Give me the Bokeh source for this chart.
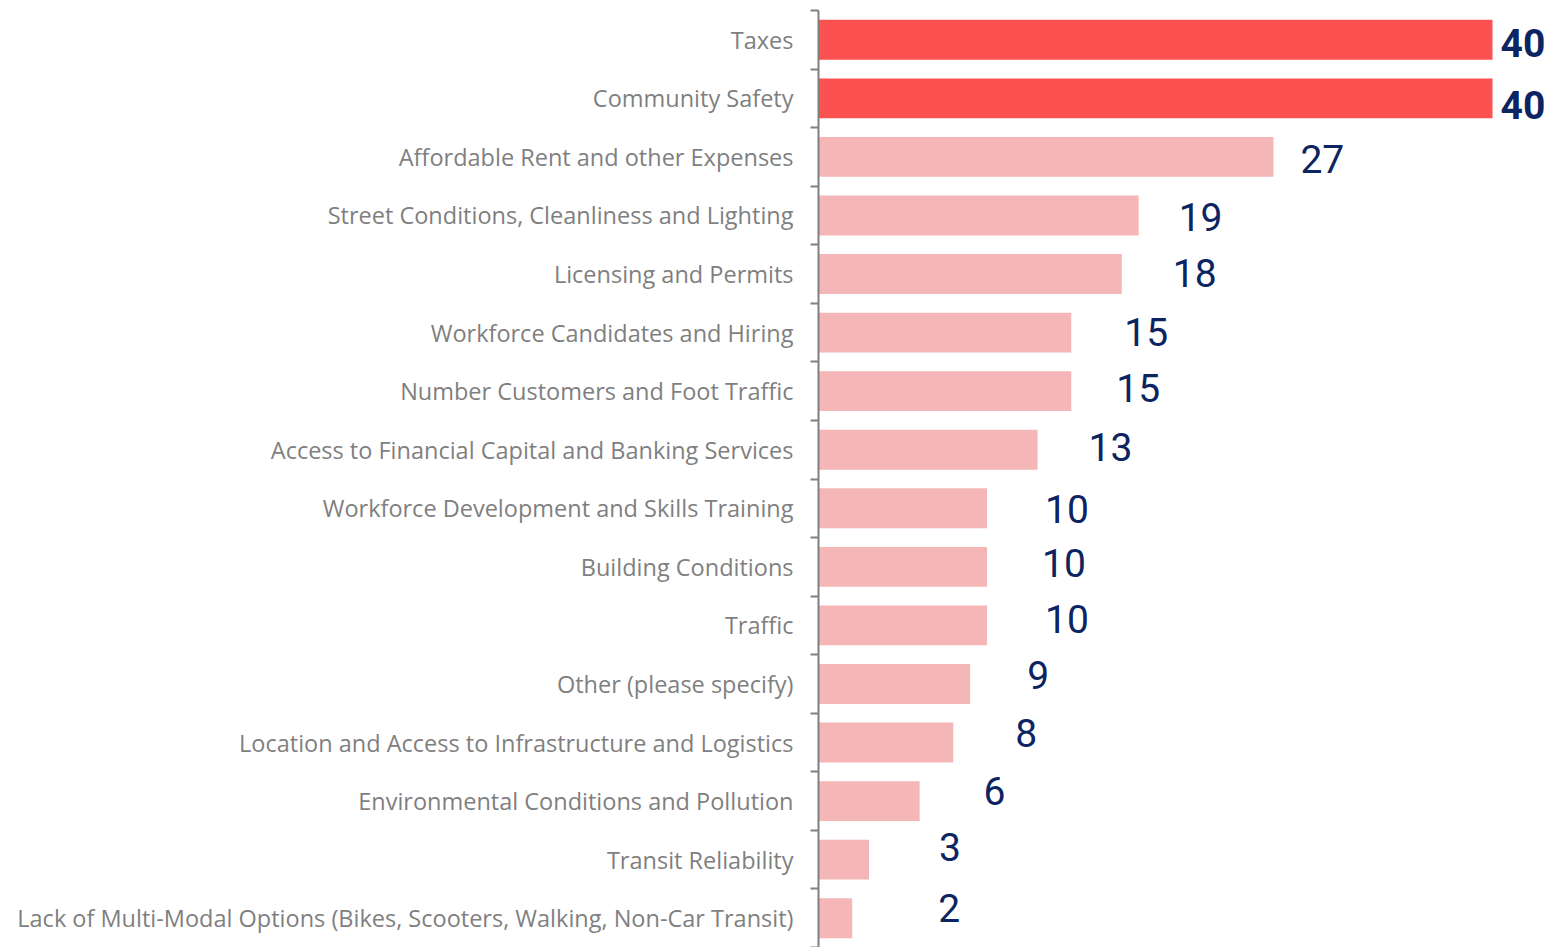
from bokeh.plotting import figure
from bokeh.models import Range1d, FixedTicker, ColumnDataSource
from bokeh.core.properties import value
from bokeh.embed import file_html
from bokeh.resources import INLINE

categories = [
    "Taxes",
    "Community Safety",
    "Affordable Rent and other Expenses",
    "Street Conditions, Cleanliness and Lighting",
    "Licensing and Permits",
    "Workforce Candidates and Hiring",
    "Number Customers and Foot Traffic",
    "Access to Financial Capital and Banking Services",
    "Workforce Development and Skills Training",
    "Building Conditions",
    "Traffic",
    "Other (please specify)",
    "Location and Access to Infrastructure and Logistics",
    "Environmental Conditions and Pollution",
    "Transit Reliability",
    "Lack of Multi-Modal Options (Bikes, Scooters, Walking, Non-Car Transit)",
]
counts = [40, 40, 27, 19, 18, 15, 15, 13, 10, 10, 10, 9, 8, 6, 3, 2]

# label placement style (screen px from bar end / bar centre), as in the original
label_dx = [8, 8, 27, 40, 51, 53, 45, 51, 58, 55, 58, 57, 62, 64, 70, 86]
label_dy = [3, 7, 2, 2, -1, -1, -3, -3, 1, -4, -6, -9, -10, -10, -13, -10]

RED = "#FC5151"
PINK = "#F4B6B6"
NAVY = "#0C2461"
GRAY = "#7F7F7F"

n = len(categories)
ys = [n - 1 - i for i in range(n)]
top = max(counts)
colors = [RED if c == top else PINK for c in counts]

bars = ColumnDataSource(dict(y=ys, v=counts, color=colors))
hi = [i for i in range(n) if counts[i] == top]
lo = [i for i in range(n) if counts[i] != top]
src_hi = ColumnDataSource(dict(x=[counts[i] for i in hi], y=[ys[i] for i in hi],
                               t=[str(counts[i]) for i in hi],
                               dx=[label_dx[i] for i in hi], dy=[label_dy[i] for i in hi]))
src_lo = ColumnDataSource(dict(x=[counts[i] for i in lo], y=[ys[i] for i in lo],
                               t=[str(counts[i]) for i in lo],
                               dx=[label_dx[i] for i in lo], dy=[label_dy[i] for i in lo]))

W, H = 1550, 947
frame_left = 818
xmax = (W - frame_left) / 16.85

p = figure(width=W, height=H, output_backend="svg", toolbar_location=None,
           x_range=Range1d(0, xmax), y_range=Range1d(-0.5, n - 0.5),
           x_axis_location=None, min_border_left=frame_left, min_border_right=0,
           min_border_top=10, min_border_bottom=0)
p.outline_line_color = None
p.xgrid.visible = False
p.ygrid.visible = False
p.background_fill_color = "white"
p.border_fill_color = "white"

p.hbar(y="y", left=0, right="v", height=0.68, fill_color="color", line_color=None, source=bars)

p.text(x="x", y="y", text="t", x_offset="dx", y_offset="dy", source=src_hi,
       text_font=value("Roboto"), text_font_size="39px", text_font_style="bold",
       text_color=NAVY, text_baseline="middle", text_align="left")
p.text(x="x", y="y", text="t", x_offset="dx", y_offset="dy", source=src_lo,
       text_font=value("Roboto"), text_font_size="39px",
       text_color=NAVY, text_baseline="middle", text_align="left")

ax = p.yaxis[0]
ax.ticker = FixedTicker(ticks=ys, minor_ticks=[k - 0.5 for k in range(n + 1)])
ax.major_label_overrides = {ys[i]: categories[i] for i in range(n)}
ax.major_tick_line_color = None
ax.major_tick_out = 0
ax.major_tick_in = 0
ax.minor_tick_line_color = GRAY
ax.minor_tick_line_width = 2
ax.minor_tick_out = 8
ax.minor_tick_in = 0
ax.axis_line_color = GRAY
ax.axis_line_width = 2
ax.major_label_standoff = 17
ax.major_label_text_font = "Open Sans"
ax.major_label_text_font_size = "23.5px"
ax.major_label_text_color = GRAY

open("out.html", "w").write(file_html(p, INLINE))
